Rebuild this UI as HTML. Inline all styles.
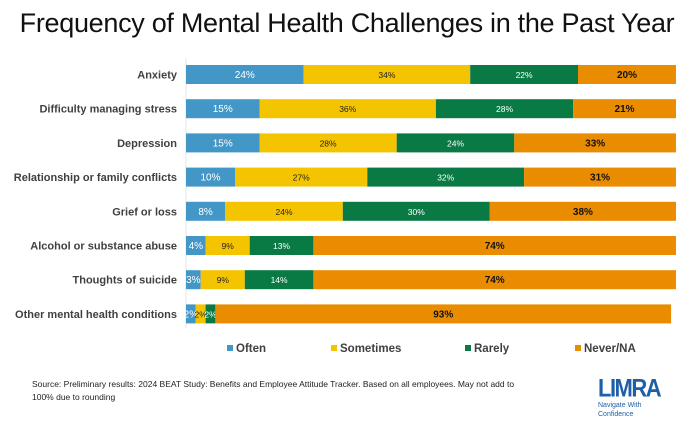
<!DOCTYPE html>
<html><head><meta charset="utf-8"><style>
body{margin:0;width:694px;height:422px;background:#fff;font-family:"Liberation Sans",sans-serif;overflow:hidden;position:relative}
#title{position:absolute;left:0;width:694px;top:8px;text-align:center;font-size:27px;color:#111;letter-spacing:-0.3px}
.src{position:absolute;left:32px;top:378px;font-size:8.5px;color:#222;line-height:13px;white-space:nowrap}
</style></head><body>
<div id="title">Frequency of Mental Health Challenges in the Past Year</div>
<svg id="chart" width="694" height="370" style="position:absolute;left:0;top:0"></svg>
<div class="src">Source: Preliminary results: 2024 BEAT Study: Benefits and Employee Attitude Tracker. Based on all employees. May not add to<br>100% due to rounding</div>
<div style="position:absolute;left:598px;top:376px;width:70px">
<div style="font-size:22px;font-weight:bold;color:#1f5fa8;letter-spacing:-1.5px;line-height:22px;transform:scaleY(1.15);transform-origin:top left">LIMRA</div>
<div style="font-size:7px;color:#1f5fa8;line-height:9px;margin-top:3px">Navigate With<br>Confidence</div></div>
<script>
const categories=["Anxiety","Difficulty managing stress","Depression","Relationship or family conflicts","Grief or loss","Alcohol or substance abuse","Thoughts of suicide","Other mental health conditions"];
const often=[24,15,15,10,8,4,3,2];
const sometimes=[34,36,28,27,24,9,9,2];
const rarely=[22,28,24,32,30,13,14,2];
const never=[20,21,33,31,38,74,74,93];
const seriesNames=["Often","Sometimes","Rarely","Never/NA"];
const colors=["#4397c7","#f5c400","#0a7a45","#ea8c00"];
const textCol=["#fff","#222","#fff","#111"];
const x0=186,scale=4.9,rowTop=65,pitch=34.2,barH=19;
const xs=v=>x0+v*scale;
const NS="http://www.w3.org/2000/svg";
const svg=document.getElementById('chart');
function mk(t,a){const e=document.createElementNS(NS,t);for(const k in a)e.setAttribute(k,a[k]);svg.appendChild(e);return e;}
const ax=mk('line',{x1:x0,x2:x0,y1:58,y2:328,stroke:'#e6e6e6'});


const series=[often,sometimes,rarely,never];
categories.forEach((c,i)=>{
  const y=rowTop+i*pitch;
  const l=mk('text',{x:177,y:y+barH/2+4,'text-anchor':'end','font-size':11,'font-weight':'bold',fill:'#404040'});
  l.textContent=c;
  
  
  let cum=0;
  series.forEach((s,j)=>{
    const v=s[i];
    const r=mk('rect',{x:xs(cum),y:y,width:v*scale,height:barH,fill:colors[j]});
    
    
    const t=mk('text',{x:xs(cum+v/2),y:y+barH/2+3.5,'text-anchor':'middle','font-size':j==0?10:(j==3?10:8.5),'font-weight':j==3?'bold':'normal',fill:textCol[j]});
    t.textContent=v+'%';
    
    
    cum+=v;
  });
});
const legX=[227,331,465,575];
seriesNames.forEach((n,j)=>{
  const r=mk('rect',{x:legX[j],y:345,width:6,height:6,fill:colors[j]});
  
  
  const t=mk('text',{x:legX[j]+9,y:352,'font-size':11.5,'font-weight':'bold',fill:'#404040'});
  t.textContent=n;
  
  
});
</script>
</body></html>
